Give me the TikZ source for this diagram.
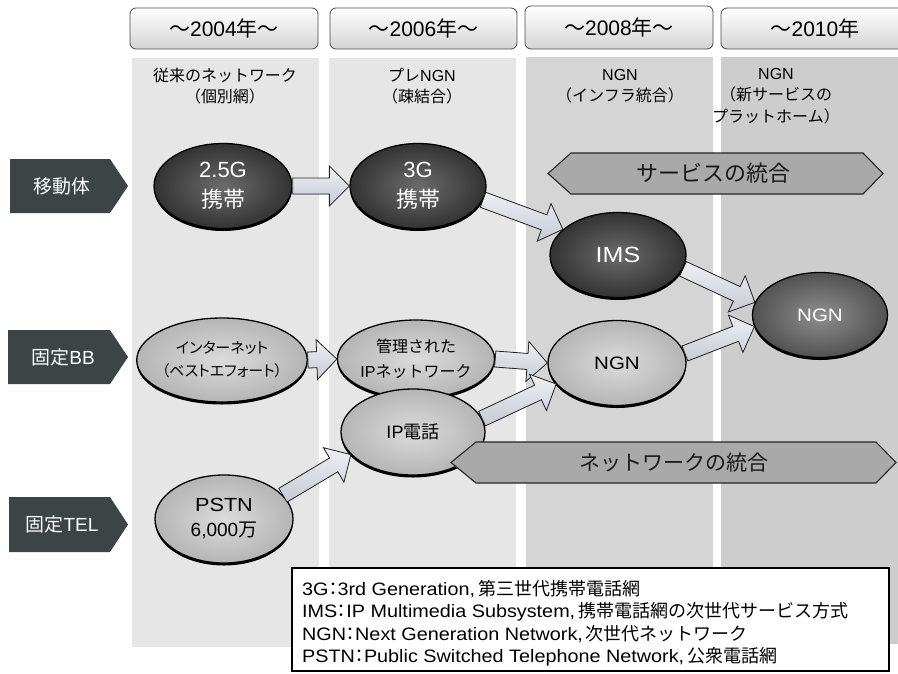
\documentclass[tikz,border=0pt]{standalone}
\usepackage{graphicx}
\usepackage{fontspec}
\setmainfont{Liberation Sans}
\newfontfamily\jp{Noto Sans CJK JP}
\newfontfamily\jpp[RawFeature=+palt]{Noto Sans CJK JP}
\usetikzlibrary{shapes.geometric,shadows,calc}
\newcommand\J[1]{{\jp #1}}
\newcommand\JP[1]{{\jpp #1}}
\newcommand\W[1]{\scalebox{1.14}[1]{#1}}
\newcommand\WL[1]{\scalebox{1.1}[1]{#1}}
\newcommand\fs[2]{\fontsize{#1}{#2}\selectfont}
\definecolor{colA}{HTML}{E6E6E6}
\definecolor{colB}{HTML}{D5D5D5}
\definecolor{colC}{HTML}{CDCDCD}
\definecolor{labfill}{HTML}{3C4446}
\definecolor{hdrline}{HTML}{4A4A4A}
\definecolor{bannerfill}{HTML}{A9A9A9}
\definecolor{arrowtop}{HTML}{EEF0F4}
\definecolor{arrowbot}{HTML}{C6CAD3}
\newcommand\barrow[2]{%
  \coordinate (bh) at ($(#2)!20pt!(#1)$);
  \filldraw[blockarrow] ($(#1)!8pt!90:(#2)$) -- ($(bh)!8pt!-90:(#1)$) -- ($(bh)!20pt!-90:(#1)$) -- (#2)
    -- ($(bh)!20pt!90:(#1)$) -- ($(bh)!8pt!90:(#1)$) -- ($(#1)!8pt!-90:(#2)$) -- cycle;
}
\begin{document}
\begin{tikzpicture}[x=1pt,y=-1pt,
  hdr/.style={draw=hdrline, line width=0.8pt, rounded corners=6pt, top color=white, bottom color=black!17, inner sep=0pt, font=\fs{21}{24}},
  coltitle/.style={align=center, inner sep=0pt, font=\fs{16}{21.5}},
  labtext/.style={text=white, inner sep=0pt, font=\fs{19}{22}},
  ell/.style={ellipse, inner sep=0pt, align=center, draw=black, line width=1.3pt,
     drop shadow={shadow xshift=0pt, shadow yshift=-2.5pt, opacity=1, fill=black}},
  darkell/.style={ell, inner color=black!58, outer color=black!80, text=white},
  midell/.style={ell, inner color=black!44, outer color=black!68, text=white},
  lightell/.style={ell, inner color=black!14, outer color=black!29, text=black},
  blockarrow/.style={draw=black!85, line width=0.8pt, top color=arrowtop, bottom color=arrowbot},
  banner/.style={draw=black!85, line width=1.1pt, fill=bannerfill},
  legtext/.style={anchor=west, inner sep=0pt, font=\fs{18}{20}}]
\useasboundingbox (0,0) rectangle (898,673);
\fill[white] (0,0) rectangle (898,673);
% column panels
\fill[colA] (132,58) rectangle (319,647);
\fill[colA] (329,58) rectangle (516,647);
\fill[colB] (526,57) rectangle (713,644);
\fill[colC] (721,57) rectangle (905,644);
% headers
\node[hdr, minimum width=188, minimum height=41] (h1) at (224,28.5) {\J{～}2004\J{年～}};
\node[hdr, minimum width=187, minimum height=41] (h2) at (423.5,28.5) {\J{～}2006\J{年～}};
\node[hdr, minimum width=188, minimum height=43] (h3) at (619,27.5) {\J{～}2008\J{年～}};
\node[hdr, minimum width=188, minimum height=41] (h4) at (815,28.5) {\J{～}2010\J{年}};
% column titles
\node[coltitle] (ct1) at (225,86) {\J{従来のネットワーク}\\\J{（個別網）}};
\node[coltitle] (ct2) at (422,86) {\J{プレ}NGN\\\J{（疎結合）}};
\node[coltitle] (ct3) at (620,86) {NGN\\\J{（インフラ統合）}};
\node[coltitle] (ct4) at (776,96) {NGN\\\J{（新サービスの}\\\J{プラットホーム）}};
% left labels
\fill[labfill] (10,159) -- (110,159) -- (128,186) -- (110,213) -- (10,213) -- cycle;
\node[labtext] (lmob) at (62,186) {\J{移動体}};
\fill[labfill] (8,330) -- (110,330) -- (128,357) -- (110,384) -- (8,384) -- cycle;
\node[labtext] (lbb) at (63,357) {\J{固定}BB};
\fill[labfill] (9,497) -- (110,497) -- (128,524.5) -- (110,552) -- (9,552) -- cycle;
\node[labtext] (ltel) at (62,524.5) {\J{固定}TEL};
% ellipses
\node[darkell, minimum width=138, minimum height=85, font=\fs{22}{30}] (e25) at (223,186) {2.5G\\\J{携帯}};
\node[darkell, minimum width=136, minimum height=85, font=\fs{22}{30}] (e3g) at (418,186) {3G\\\J{携帯}};
\node[darkell, minimum width=136, minimum height=85, font=\fs{22}{26}] (ims) at (618,255) {\W{IMS}};
\node[midell, minimum width=135, minimum height=85, font=\fs{18}{22}] (ngnR) at (820,315) {\W{NGN}};
\node[lightell, minimum width=135, minimum height=84, font=\fs{15}{23}] (inet) at (222,360) {\JP{インターネット}\\\JP{（ベストエフォート）}};
\node[lightell, minimum width=138, minimum height=78, font=\fs{16}{25}] (kanri) at (416,359) {\J{管理された}\\IP\J{ネットワーク}};
\node[lightell, minimum width=138, minimum height=85, font=\fs{18}{22}] (ngnM) at (617,363) {\W{NGN}};
\node[lightell, minimum width=144, minimum height=86, font=\fs{18}{22}] (ipden) at (413,432) {IP\J{電話}};
\node[lightell, minimum width=138, minimum height=88, font=\fs{19}{25}] (pstn) at (224,519) {\W{PSTN}\\6,000\J{万}};
% block arrows
\barrow{e25.east}{e3g.west}
\barrow{e3g.-12}{ims.155}
\barrow{ims.-12}{ngnR.169}
\barrow{inet.east}{kanri.west}
\barrow{kanri.east}{ngnM.west}
\barrow{ipden.11}{ngnM.199}
\barrow{ngnM.8}{ngnR.190}
\barrow{pstn.22}{ipden.200}
% banners
\filldraw[banner] (548,173.5) -- (571,153) -- (863,153) -- (883,173.5) -- (863,194) -- (571,194) -- cycle;
\node[inner sep=0pt, text=black!90, font=\fs{22}{26}] (svc) at (713.5,173.5) {\J{サービスの統合}};
\filldraw[banner] (451,462.5) -- (476,442) -- (876,442) -- (896,462.5) -- (876,483) -- (476,483) -- cycle;
\node[inner sep=0pt, text=black!90, font=\fs{21}{26}] (nw) at (673.5,462.5) {\J{ネットワークの統合}};
% legend
\draw[fill=white, line width=2pt] (292,568) rectangle (889,671);
\node[legtext] (lg1) at (302,589) {\WL{3G}\JP{：}\WL{3rd Generation,}\,\J{第三世代携帯電話網}};
\node[legtext] (lg2) at (302,612) {\WL{IMS}\JP{：}\WL{IP Multimedia Subsystem,}\,\J{携帯電話網の次世代サービス方式}};
\node[legtext] (lg3) at (302,634) {\WL{NGN}\JP{：}\WL{Next Generation Network,}\,\J{次世代ネットワーク}};
\node[legtext] (lg4) at (302,657) {\WL{PSTN}\JP{：}\WL{Public Switched Telephone Network,}\,\J{公衆電話網}};
\end{tikzpicture}
\end{document}
